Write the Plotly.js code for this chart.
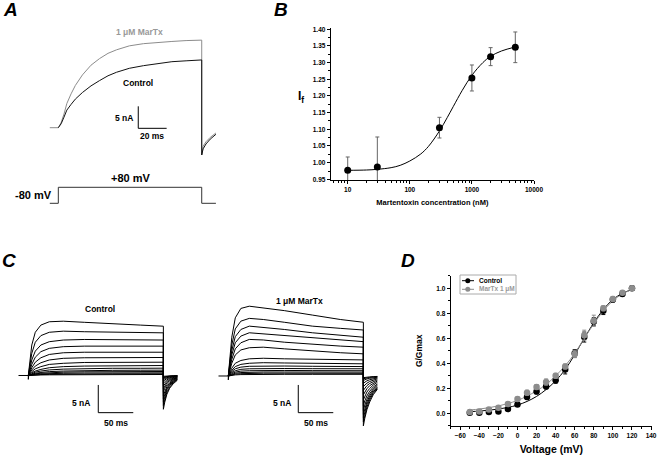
<!DOCTYPE html>
<html>
<head>
<meta charset="utf-8">
<script src="https://cdn.plot.ly/plotly-3.0.1.min.js"></script>
<style>html,body{margin:0;padding:0;background:#fff;}#chart{width:661px;height:460px;}</style>
</head>
<body>
<div id="chart"></div>
<script>
// ---------- Panel A: currents (ms, nA) ----------
var tA = [0, 2, 4, 6, 9, 12, 17, 23, 29, 35, 41, 50, 60, 70, 80, 90, 101, 101, 102, 104, 107, 111];
var aMarTx = [0, 1.2, 3.1, 5.5, 7.7, 9.6, 12.0, 14.2, 15.7, 16.9, 17.7, 18.6, 19.1, 19.4, 19.6, 19.8, 19.9, -6.2, -4.2, -3.2, -2.2, -1.2];
var aControl = [0, 0.9, 2.4, 4.0, 5.3, 6.5, 8.0, 9.5, 10.7, 11.8, 12.6, 13.5, 14.1, 14.6, 15.0, 15.2, 15.4, -6.2, -4.8, -3.7, -2.6, -1.5];
var tABase = [-6, 0];
var aBase = [0, 0];
// voltage protocol (ms, mV)
var tProt = [-6, 0, 0, 101, 101, 111];
var vProt = [-80, -80, 80, 80, -80, -80];

// ---------- Panel B: concentration response ----------
var concB = [10, 30, 300, 1000, 2000, 5000];
var ifB = [0.977, 0.987, 1.105, 1.254, 1.318, 1.346];
var errB = [0.040, 0.090, 0.031, 0.039, 0.027, 0.046];
var fitConcB = [10, 20, 30, 50, 70, 100, 150, 200, 300, 400, 500, 700, 1000, 1500, 2000, 3000, 5000];
var fitIfB = [0.977, 0.978, 0.980, 0.985, 0.992, 1.005, 1.026, 1.049, 1.095, 1.135, 1.168, 1.217, 1.262, 1.300, 1.319, 1.335, 1.347];
var tickValsB = [10, 100, 1000, 10000];
var tickTextB = ['10', '100', '1000', '10000'];

// ---------- Panel C: current families (ms, nA) ----------
var tC = [0, 2, 5, 10, 18, 30, 50, 80, 120, 160, 193, 193, 195, 198, 202, 207, 213];
var tCBase = [-14, 0, 0, 0.6];
var cBase = [0, 0, -0.7, 0];
var controlCurrents = [
  [0, 2.5, 5.5, 7.8, 9.1, 9.7, 9.8, 9.6, 9.3, 9.1, 8.9, -6.1, -4.8, -3.4, -2.3, -1.5, -0.85],
  [0, 1.8, 4.0, 6.0, 7.2, 7.8, 8.0, 7.9, 7.8, 7.7, 7.7, -5.4, -4.2, -3.0, -2.1, -1.3, -0.75],
  [0, 1.2, 2.8, 4.4, 5.5, 6.1, 6.4, 6.5, 6.5, 6.4, 6.4, -4.8, -3.7, -2.6, -1.8, -1.15, -0.67],
  [0, 0.9, 2.0, 3.3, 4.3, 4.9, 5.2, 5.3, 5.3, 5.3, 5.3, -4.2, -3.3, -2.3, -1.6, -1.0, -0.6],
  [0, 0.6, 1.4, 2.4, 3.2, 3.8, 4.1, 4.2, 4.2, 4.2, 4.2, -3.6, -2.8, -2.0, -1.4, -0.86, -0.5],
  [0, 0.4, 1.0, 1.7, 2.3, 2.8, 3.1, 3.2, 3.25, 3.25, 3.25, -3.0, -2.3, -1.65, -1.15, -0.72, -0.42],
  [0, 0.3, 0.7, 1.2, 1.6, 2.0, 2.2, 2.35, 2.4, 2.4, 2.4, -2.4, -1.9, -1.3, -0.9, -0.58, -0.34],
  [0, 0.2, 0.5, 0.8, 1.1, 1.4, 1.6, 1.7, 1.75, 1.8, 1.8, -1.9, -1.5, -1.05, -0.72, -0.46, -0.27],
  [0, 0.15, 0.35, 0.6, 0.8, 1.0, 1.15, 1.25, 1.3, 1.3, 1.32, -1.4, -1.1, -0.77, -0.53, -0.34, -0.2],
  [0, 0.1, 0.25, 0.4, 0.55, 0.7, 0.8, 0.9, 0.93, 0.95, 0.96, -1.0, -0.78, -0.55, -0.38, -0.24, -0.14],
  [0, 0.08, 0.18, 0.3, 0.4, 0.5, 0.6, 0.66, 0.7, 0.72, 0.72, -0.7, -0.55, -0.39, -0.27, -0.17, -0.1],
  [0, 0.05, 0.12, 0.2, 0.27, 0.34, 0.4, 0.44, 0.46, 0.48, 0.48, -0.45, -0.35, -0.25, -0.17, -0.11, -0.06],
  [0, 0.03, 0.07, 0.12, 0.17, 0.21, 0.25, 0.27, 0.29, 0.3, 0.3, -0.3, -0.23, -0.17, -0.11, -0.07, -0.04],
  [0, 0.02, 0.04, 0.07, 0.1, 0.12, 0.14, 0.16, 0.17, 0.18, 0.18, -0.15, -0.12, -0.08, -0.06, -0.04, -0.02]
];
var marTxCurrents = [
  [0, 3.0, 7.0, 10.5, 12.2, 12.6, 12.3, 11.8, 11.0, 10.2, 9.7, -9.0, -7.65, -6.1, -4.7, -3.4, -2.4],
  [0, 2.4, 5.6, 8.5, 9.9, 10.4, 10.2, 9.7, 9.0, 8.6, 8.3, -8.3, -7.05, -5.65, -4.3, -3.15, -2.25],
  [0, 2.0, 4.6, 7.1, 8.4, 9.0, 8.8, 8.4, 7.8, 7.3, 7.0, -7.6, -6.45, -5.15, -3.95, -2.9, -2.05],
  [0, 1.6, 3.8, 6.0, 7.2, 7.8, 7.6, 7.2, 6.8, 6.4, 6.2, -6.9, -5.85, -4.7, -3.6, -2.6, -1.85],
  [0, 1.3, 3.0, 4.9, 6.0, 6.6, 6.5, 6.1, 5.7, 5.4, 5.2, -6.2, -5.25, -4.2, -3.2, -2.35, -1.65],
  [0, 1.0, 2.3, 3.8, 4.7, 5.1, 5.2, 4.9, 4.5, 4.2, 4.0, -5.3, -4.5, -3.6, -2.75, -2.0, -1.45],
  [0, 0.6, 1.4, 2.3, 2.8, 3.1, 3.2, 3.1, 3.0, 2.9, 2.9, -4.3, -3.65, -2.9, -2.25, -1.65, -1.15],
  [0, 0.45, 1.0, 1.7, 2.1, 2.3, 2.4, 2.35, 2.3, 2.25, 2.2, -3.4, -2.9, -2.3, -1.75, -1.3, -0.9],
  [0, 0.35, 0.8, 1.3, 1.6, 1.75, 1.8, 1.8, 1.75, 1.72, 1.7, -2.6, -2.2, -1.75, -1.35, -1.0, -0.7],
  [0, 0.25, 0.6, 0.95, 1.2, 1.3, 1.35, 1.35, 1.32, 1.3, 1.3, -1.9, -1.6, -1.3, -1.0, -0.72, -0.5],
  [0, 0.18, 0.42, 0.7, 0.88, 0.95, 1.0, 1.0, 0.97, 0.95, 0.95, -1.3, -1.1, -0.88, -0.68, -0.5, -0.35],
  [0, 0.12, 0.3, 0.5, 0.62, 0.68, 0.72, 0.72, 0.71, 0.7, 0.7, -0.8, -0.68, -0.54, -0.42, -0.3, -0.22],
  [0, 0.08, 0.2, 0.34, 0.42, 0.47, 0.5, 0.5, 0.49, 0.48, 0.48, -0.5, -0.42, -0.34, -0.26, -0.19, -0.14],
  [0, 0.05, 0.12, 0.2, 0.25, 0.28, 0.3, 0.3, 0.3, 0.3, 0.3, -0.3, -0.25, -0.2, -0.16, -0.11, -0.08]
];

// ---------- Panel D: G/Gmax vs voltage ----------
var voltD = [-50, -40, -30, -20, -10, 0, 10, 20, 30, 40, 50, 60, 70, 80, 90, 100, 110, 120];
var gControl = [0.005, 0.005, 0.01, 0.015, 0.035, 0.07, 0.13, 0.175, 0.215, 0.265, 0.35, 0.48, 0.61, 0.735, 0.82, 0.91, 0.955, 1.0];
var gControlErr = [0.01, 0.01, 0.01, 0.01, 0.012, 0.015, 0.02, 0.02, 0.02, 0.025, 0.035, 0.03, 0.04, 0.03, 0.03, 0.02, 0.015, 0.01];
var gMarTx = [0.01, 0.015, 0.03, 0.045, 0.075, 0.115, 0.165, 0.21, 0.25, 0.30, 0.375, 0.475, 0.625, 0.74, 0.84, 0.915, 0.965, 1.0];
var gMarTxErr = [0.01, 0.01, 0.012, 0.012, 0.015, 0.015, 0.02, 0.02, 0.025, 0.02, 0.02, 0.03, 0.04, 0.045, 0.02, 0.02, 0.015, 0.01];
var fitControlD = [0.013, 0.018, 0.025, 0.034, 0.047, 0.066, 0.095, 0.135, 0.19, 0.26, 0.35, 0.47, 0.60, 0.725, 0.83, 0.91, 0.96, 0.99];
var fitMarTxD = [0.026, 0.034, 0.045, 0.059, 0.078, 0.103, 0.137, 0.18, 0.23, 0.30, 0.38, 0.48, 0.60, 0.715, 0.82, 0.90, 0.955, 0.99];
var legendNames = ['Control', 'MarTx 1 μM'];

// ---------- helpers for layout ----------
var W = 661, H = 460;
function fx(px) { return px / W; }
function fy(py) { return 1 - py / H; }
var FONT = 'Liberation Sans, Arial, sans-serif';
var GRAY = '#8c8c8c';

var traces = [];
// Panel A
traces.push({x: tABase, y: aBase, xaxis: 'x', yaxis: 'y', mode: 'lines', line: {color: GRAY, width: 1}, hoverinfo: 'skip'});
traces.push({x: tA, y: aMarTx, xaxis: 'x', yaxis: 'y', mode: 'lines', line: {color: GRAY, width: 1}});
traces.push({x: tA, y: aControl, xaxis: 'x', yaxis: 'y', mode: 'lines', line: {color: '#111', width: 1}});
traces.push({x: tProt, y: vProt, xaxis: 'x2', yaxis: 'y2', mode: 'lines', line: {color: '#333', width: 1}});
// Panel B
traces.push({x: fitConcB, y: fitIfB, xaxis: 'x3', yaxis: 'y3', mode: 'lines', line: {color: '#000', width: 1, shape: 'spline'}});
traces.push({x: concB, y: ifB, xaxis: 'x3', yaxis: 'y3', mode: 'markers', marker: {color: '#000', size: 7},
  error_y: {type: 'data', array: errB, visible: true, color: '#666', thickness: 1, width: 2}, cliponaxis: false});
// Panel C
traces.push({x: tCBase, y: cBase, xaxis: 'x4', yaxis: 'y4', mode: 'lines', line: {color: '#000', width: 1}});
controlCurrents.forEach(function (arr) {
  traces.push({x: tC, y: arr, xaxis: 'x4', yaxis: 'y4', mode: 'lines', line: {color: '#000', width: 1}});
});
traces.push({x: tCBase, y: cBase, xaxis: 'x5', yaxis: 'y5', mode: 'lines', line: {color: '#000', width: 1}});
marTxCurrents.forEach(function (arr) {
  traces.push({x: tC, y: arr, xaxis: 'x5', yaxis: 'y5', mode: 'lines', line: {color: '#000', width: 1}});
});
// Panel D
traces.push({x: voltD, y: fitControlD, xaxis: 'x6', yaxis: 'y6', mode: 'lines', line: {color: '#000', width: 1, shape: 'spline'}});
traces.push({x: voltD, y: fitMarTxD, xaxis: 'x6', yaxis: 'y6', mode: 'lines', line: {color: GRAY, width: 1, shape: 'spline'}});
traces.push({x: voltD, y: gControl, xaxis: 'x6', yaxis: 'y6', mode: 'markers', name: legendNames[0],
  marker: {color: '#000', size: 6.5}, error_y: {type: 'data', array: gControlErr, visible: true, color: '#000', thickness: 1, width: 2}});
traces.push({x: voltD, y: gMarTx, xaxis: 'x6', yaxis: 'y6', mode: 'markers', name: legendNames[1],
  marker: {color: GRAY, size: 6.5}, error_y: {type: 'data', array: gMarTxErr, visible: true, color: GRAY, thickness: 1, width: 2}});

var hidden = {visible: false, fixedrange: true, showgrid: false, zeroline: false};
function hid(extra) { return Object.assign({}, hidden, extra); }
var tickFont = {family: FONT, size: 6.5, color: '#000', weight: 'bold'};

var layout = {
  width: W, height: H,
  margin: {l: 0, r: 0, t: 0, b: 0, pad: 0},
  paper_bgcolor: '#fff', plot_bgcolor: 'rgba(0,0,0,0)',
  font: {family: FONT, color: '#000'},
  showlegend: false,
  // Panel A
  xaxis: hid({domain: [fx(40), fx(225)], range: [-12.9, 117.4]}),
  yaxis: hid({domain: [fy(160), fy(25)], range: [-7.34, 23.34]}),
  xaxis2: hid({domain: [fx(40), fx(225)], range: [-12.9, 117.4]}),
  yaxis2: hid({domain: [fy(215), fy(175)], range: [-197, 203]}),
  // Panel B
  xaxis3: {domain: [fx(330.7), fx(534)], type: 'log', range: [0.726, 4.0], showline: true, linecolor: '#000', linewidth: 1,
    ticks: 'outside', ticklen: 3, tickcolor: '#000', tickmode: 'array', tickvals: tickValsB, ticktext: tickTextB,
    tickfont: tickFont, showgrid: false, zeroline: false, fixedrange: true, anchor: 'y3',
    minor: {ticks: 'outside', ticklen: 2, tickcolor: '#000', dtick: 'D1', showgrid: false},
    title: {text: 'Martentoxin concentration (nM)', font: {family: FONT, size: 7.5, weight: 'bold'}, standoff: 7}},
  yaxis3: {domain: [fy(180), fy(28.3)], range: [0.948, 1.403], showline: true, linecolor: '#000', linewidth: 1,
    ticks: 'outside', ticklen: 3, tickcolor: '#000', tick0: 0.95, dtick: 0.05, tickformat: '.2f',
    tickfont: tickFont, showgrid: false, zeroline: false, fixedrange: true, anchor: 'x3',
    minor: {ticks: 'outside', ticklen: 2, tickcolor: '#000', dtick: 0.025, showgrid: false}},
  // Panel C
  xaxis4: hid({domain: [fx(10), fx(185)], range: [-26.14, 223.9]}),
  yaxis4: hid({domain: [fy(430), fy(295)], range: [-9.84, 14.53]}),
  xaxis5: hid({domain: [fx(210), fx(385)], range: [-26.14, 223.9]}),
  yaxis5: hid({domain: [fy(430), fy(295)], range: [-9.75, 14.62]}),
  // Panel D
  xaxis6: {domain: [fx(450.7), fx(652)], range: [-70, 141], showline: true, linecolor: '#000', linewidth: 1,
    ticks: 'outside', ticklen: 3, tickcolor: '#000', tick0: 0, dtick: 20,
    tickfont: tickFont, showgrid: false, zeroline: false, fixedrange: true, anchor: 'y6',
    minor: {ticks: 'outside', ticklen: 2, tickcolor: '#000', dtick: 10, showgrid: false},
    title: {text: 'Voltage (mV)', font: {family: FONT, size: 10.5, weight: 'bold'}, standoff: 8}},
  yaxis6: {domain: [fy(425.8), fy(275.8)], range: [-0.1, 1.1], showline: true, linecolor: '#000', linewidth: 1,
    ticks: 'outside', ticklen: 3, tickcolor: '#000', tick0: 0, dtick: 0.2, tickformat: '.1f',
    tickfont: tickFont, showgrid: false, zeroline: false, fixedrange: true, anchor: 'x6',
    minor: {ticks: 'outside', ticklen: 2, tickcolor: '#000', dtick: 0.1, showgrid: false},
    title: {text: 'G/Gmax', font: {family: FONT, size: 8.5, weight: 'bold'}, standoff: 12}},
  shapes: [
    // A scale bar
    {type: 'line', xref: 'x', yref: 'y', x0: 56.3, x1: 56.3, y0: -0.14, y1: 4.86, line: {color: '#000', width: 1}},
    {type: 'line', xref: 'x', yref: 'y', x0: 56.3, x1: 76.3, y0: -0.14, y1: -0.14, line: {color: '#000', width: 1}},
    // C left scale bar
    {type: 'line', xref: 'x4', yref: 'y4', x0: 100, x1: 100, y0: -1.71, y1: -6.71, line: {color: '#000', width: 1}},
    {type: 'line', xref: 'x4', yref: 'y4', x0: 100, x1: 150, y0: -6.71, y1: -6.71, line: {color: '#000', width: 1}},
    // C right scale bar
    {type: 'line', xref: 'x5', yref: 'y5', x0: 100, x1: 100, y0: -1.62, y1: -6.62, line: {color: '#000', width: 1}},
    {type: 'line', xref: 'x5', yref: 'y5', x0: 100, x1: 150, y0: -6.62, y1: -6.62, line: {color: '#000', width: 1}},
    // D legend box and symbols
    {type: 'rect', xref: 'paper', yref: 'paper', x0: fx(460), x1: fx(516), y0: fy(294), y1: fy(275), line: {color: '#aaa', width: 1}, fillcolor: '#fff', layer: 'above'},
    {type: 'line', xref: 'paper', yref: 'paper', x0: fx(462), x1: fx(474), y0: fy(280.7), y1: fy(280.7), line: {color: '#000', width: 1}, layer: 'above'},
    {type: 'circle', xref: 'paper', yref: 'paper', x0: fx(465.3), x1: fx(470.3), y0: fy(283.2), y1: fy(278.2), line: {width: 0}, fillcolor: '#000', layer: 'above'},
    {type: 'line', xref: 'paper', yref: 'paper', x0: fx(462), x1: fx(474), y0: fy(289.3), y1: fy(289.3), line: {color: GRAY, width: 1}, layer: 'above'},
    {type: 'circle', xref: 'paper', yref: 'paper', x0: fx(465.3), x1: fx(470.3), y0: fy(291.8), y1: fy(286.8), line: {width: 0}, fillcolor: GRAY, layer: 'above'}
  ],
  annotations: []
};

function ann(text, xref, yref, x, y, opts) {
  return Object.assign({text: text, xref: xref, yref: yref, x: x, y: y, showarrow: false,
    xanchor: 'center', yanchor: 'middle', font: {family: FONT, size: 8.5, color: '#000', weight: 'bold'}}, opts || {});
}
var panelFont = {family: FONT, size: 19, color: '#000', weight: 'bold', style: 'italic'};
layout.annotations.push(ann('A', 'paper', 'paper', fx(10), fy(10), {font: panelFont}));
layout.annotations.push(ann('B', 'paper', 'paper', fx(281), fy(10), {font: panelFont}));
layout.annotations.push(ann('C', 'paper', 'paper', fx(9), fy(260), {font: panelFont}));
layout.annotations.push(ann('D', 'paper', 'paper', fx(408), fy(260), {font: panelFont}));
// Panel A texts
layout.annotations.push(ann('1 μM MarTx', 'x', 'y', 57.5, 21.75, {font: {family: FONT, size: 8.5, color: '#999', weight: 'bold'}}));
layout.annotations.push(ann('Control', 'x', 'y', 56.1, 10.2));
layout.annotations.push(ann('5 nA', 'x', 'y', 54, 2.2, {xanchor: 'right'}));
layout.annotations.push(ann('20 ms', 'x', 'y', 66.3, -1.9));
layout.annotations.push(ann('+80 mV', 'x2', 'y2', 50.5, 173, {font: {family: FONT, size: 11, color: '#000', weight: 'bold'}}));
layout.annotations.push(ann('-80 mV', 'x2', 'y2', -3.0, 3, {xanchor: 'right', font: {family: FONT, size: 11, color: '#000', weight: 'bold'}}));
// Panel B y label (upright)
layout.annotations.push(ann('I<sub>f</sub>', 'paper', 'paper', fx(301), fy(97), {font: {family: FONT, size: 12, color: '#000', weight: 'bold'}}));
// Panel C texts
layout.annotations.push(ann('Control', 'x4', 'y4', 102.4, 12.0));
layout.annotations.push(ann('5 nA', 'x4', 'y4', 91, -4.96, {xanchor: 'right'}));
layout.annotations.push(ann('50 ms', 'x4', 'y4', 126, -8.5));
layout.annotations.push(ann('1 μM MarTx', 'x5', 'y5', 102.4, 13.5));
layout.annotations.push(ann('5 nA', 'x5', 'y5', 92, -4.87, {xanchor: 'right'}));
layout.annotations.push(ann('50 ms', 'x5', 'y5', 126, -8.4));
// Panel D legend texts
layout.annotations.push(ann(legendNames[0], 'paper', 'paper', fx(477), fy(280.7), {xanchor: 'left', font: {family: FONT, size: 6.5, color: '#000', weight: 'bold'}}));
layout.annotations.push(ann(legendNames[1], 'paper', 'paper', fx(477), fy(289.3), {xanchor: 'left', font: {family: FONT, size: 6.5, color: '#999', weight: 'bold'}}));

Plotly.newPlot('chart', traces, layout, {staticPlot: true, displayModeBar: false});
</script>
</body>
</html>
